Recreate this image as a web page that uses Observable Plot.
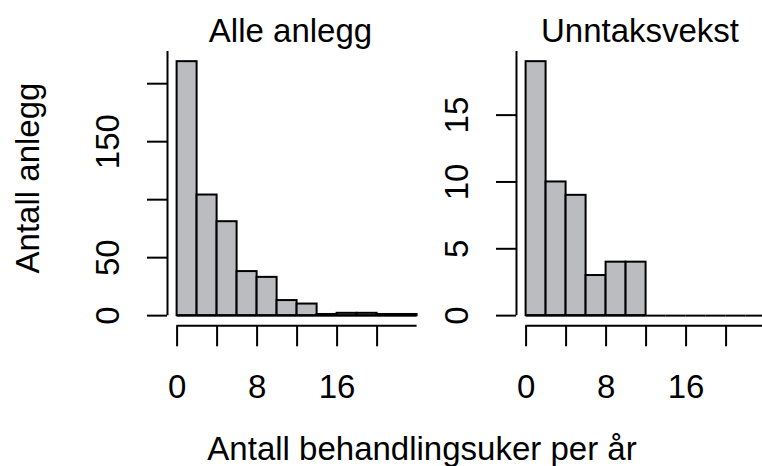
<!DOCTYPE html>
<html><head><meta charset="utf-8">
<script src="https://cdn.jsdelivr.net/npm/d3@7"></script>
<script src="https://cdn.jsdelivr.net/npm/@observablehq/plot@0.6"></script>
<style>
body{margin:0;background:#fff;overflow:hidden}
#wrap{position:relative;width:762px;height:466px;overflow:hidden;font-family:"Liberation Sans",Arial,sans-serif;color:#000;background:#fff}
#wrap svg{position:absolute;left:0;top:0}
.lbl{position:absolute;font-size:33px;line-height:33px;white-space:nowrap;font-family:"Liberation Sans",Arial,sans-serif}
</style></head><body>
<div id="wrap"></div>
<script>
// ---- data ----
const binStarts = [0, 2, 4, 6, 8, 10, 12, 14, 16, 18, 20, 22];
const binWidth = 2;
const alleCounts = [219, 104, 81, 38, 33, 13, 10, 1, 2, 2, 1, 1];
const unntakCounts = [19, 10, 9, 3, 4, 4, 0, 0, 0, 0, 0, 0];
const xTicks = [0, 4, 8, 12, 16, 20];
const xTickLabels = [0, 8, 16];
const alleYTicks = [0, 50, 100, 150, 200];
const alleYTickLabels = [0, 50, 150];
const unntakYTicks = [0, 5, 10, 15];
const unntakYTickLabels = [0, 5, 10, 15];
const titles = ["Alle anlegg", "Unntaksvekst"];
const xLabel = "Antall behandlingsuker per år";
const yLabel = "Antall anlegg";

const FONT = "'Liberation Sans', Arial, sans-serif";
const wrap = document.getElementById("wrap");

function panel(counts, yTicks, yTickLabels, left, svgWidth) {
  const bins = binStarts.map((s, i) => ({x1: s, x2: s + binWidth, n: counts[i]}));
  const xmax = binStarts[binStarts.length - 1] + binWidth;
  const ymax = d3.max(counts);
  const xpad = 0.04 * xmax, ypad = 0.04 * ymax;
  const plotW = 259.2;
  return Plot.plot({
    width: svgWidth,
    height: 466,
    marginLeft: left,
    marginRight: svgWidth - left - plotW,
    marginTop: 51,
    marginBottom: 466 - 325.3,
    style: `background:transparent;max-width:none;overflow:visible;font-family:${FONT};color:#000`,
    x: {domain: [-xpad, xmax + xpad], axis: null},
    y: {domain: [-ypad, ymax + ypad], axis: null},
    marks: [
      Plot.rect(bins.filter(d => d.n > 0), {x1: "x1", x2: "x2", y1: 0, y2: "n", fill: "#babcbf", stroke: "#000", strokeWidth: 2}),
      Plot.ruleY(bins, {x1: "x1", x2: "x2", y: 0, stroke: "#000", strokeWidth: 2}),
      Plot.ruleX([-xpad], {y1: 0, y2: ymax + ypad, stroke: "#000", strokeWidth: 2}),
      Plot.ruleY([-ypad], {x1: 0, x2: xmax, stroke: "#000", strokeWidth: 2}),
      Plot.axisY(yTicks, {anchor: "left", tickSize: 20, tickFormat: () => "", label: null, strokeWidth: 2}),
      Plot.axisX(xTicks, {anchor: "bottom", tickSize: 21, tickFormat: () => "", label: null, strokeWidth: 2}),
      Plot.text(yTickLabels, {y: d => d, text: d => String(d), frameAnchor: "left", dx: -59, rotate: -90, fontSize: 33, textAnchor: "middle", lineAnchor: "middle", fill: "#000"}),
      Plot.text(xTickLabels, {x: d => d, text: d => String(d), frameAnchor: "bottom", dy: 62, fontSize: 33, textAnchor: "middle", lineAnchor: "middle", fill: "#000"})
    ]
  });
}

wrap.appendChild(panel(alleCounts, alleYTicks, alleYTickLabels, 167, 762));
wrap.appendChild(panel(unntakCounts, unntakYTicks, unntakYTickLabels, 516, 775.2));

function label(text, x, y, rotate) {
  const d = document.createElement("div");
  d.className = "lbl";
  d.textContent = text;
  d.style.left = x + "px";
  d.style.top = y + "px";
  d.style.transform = rotate ? "translate(-50%,-50%) rotate(-90deg)" : "translate(-50%,0)";
  wrap.appendChild(d);
}
label(titles[0], 290.5, 14);
label(titles[1], 640, 14);
label(xLabel, 422, 432);
label(yLabel, 27, 178, true);
</script>
</body></html>
